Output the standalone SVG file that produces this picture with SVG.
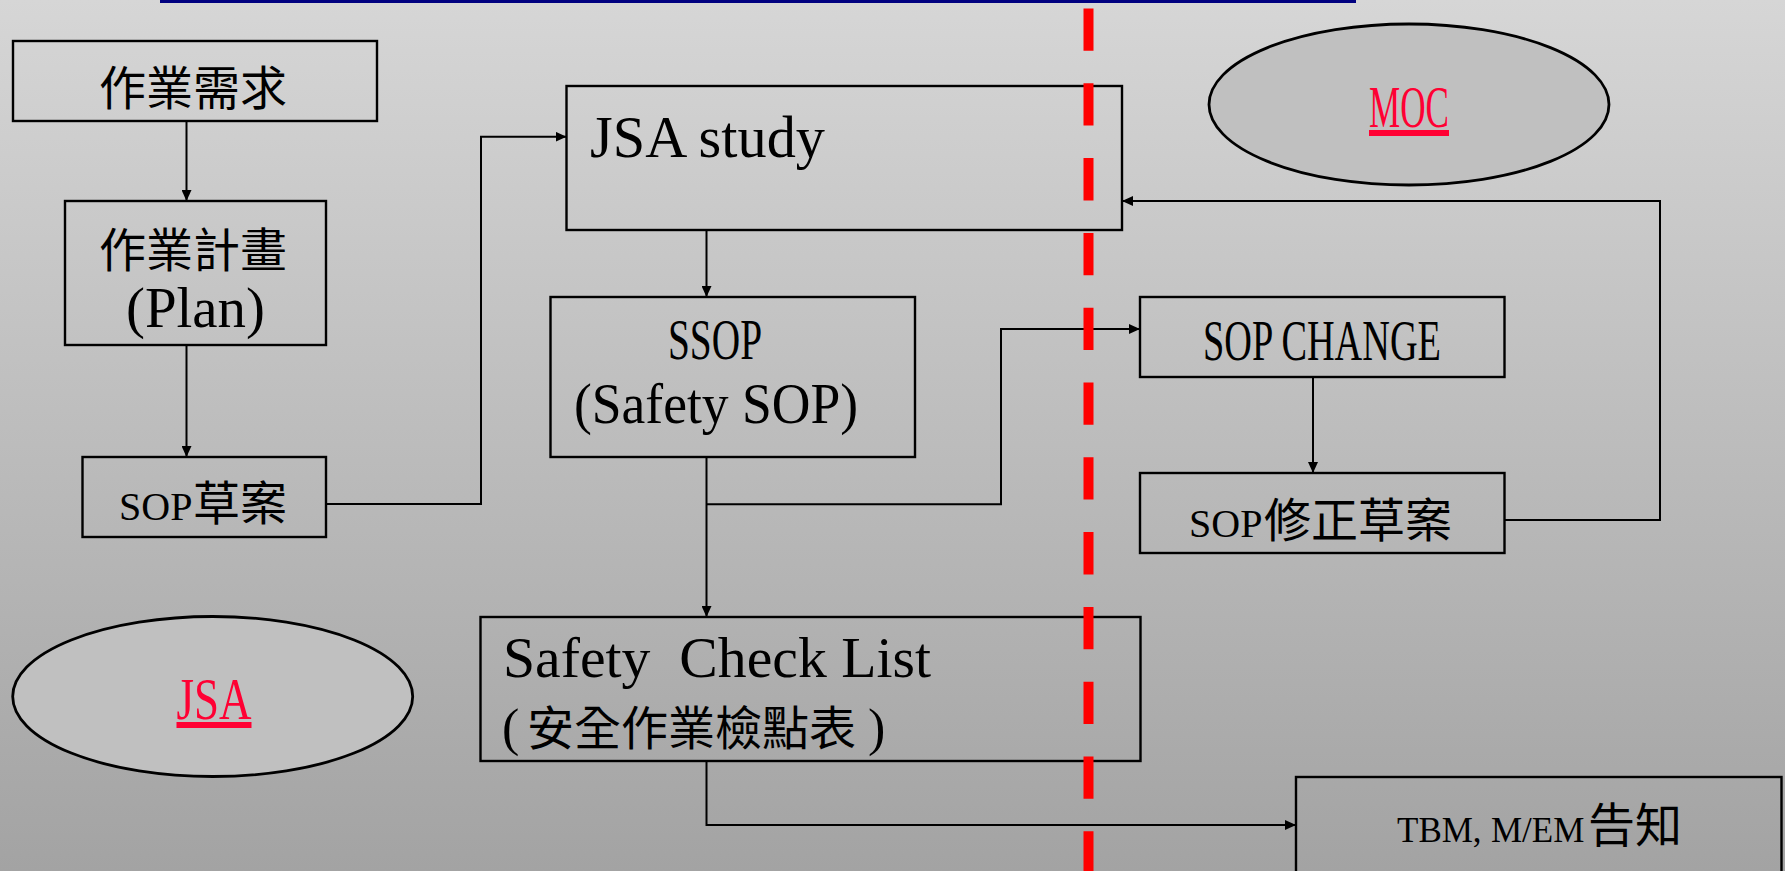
<svg xmlns="http://www.w3.org/2000/svg" width="1785" height="871" viewBox="0 0 1785 871">
<defs>
<linearGradient id="bg" x1="0" y1="0" x2="0" y2="1">
<stop offset="0" stop-color="#d6d6d6"/>
<stop offset="1" stop-color="#a3a3a3"/>
</linearGradient>
<marker id="ah" markerUnits="userSpaceOnUse" markerWidth="11" markerHeight="10" refX="11" refY="5" orient="auto">
<path d="M0,0 L11,5 L0,10 z" fill="#000"/>
</marker>
</defs>
<style>
.box{fill:none;stroke:#000;stroke-width:2.4}
.ell{fill:#c0c0c0;stroke:#000;stroke-width:2.8}
.con{fill:none;stroke:#000;stroke-width:2;marker-end:url(#ah)}
.cj{font-family:"Noto Sans CJK TC","Noto Sans CJK SC",sans-serif;font-size:47px;fill:#000}
.l{font-family:"Liberation Serif",serif;font-size:40px}
.ls{font-family:"Liberation Serif",serif;font-size:35px}
.lp{font-family:"Liberation Serif",serif;font-size:52px}
.lt{font-family:"Liberation Serif",serif;font-size:56px;fill:#000}
.lj{font-family:"Liberation Serif",serif;font-size:60px;fill:#000}
.red{font-family:"Liberation Serif",serif;font-size:60px;fill:#ff0033;text-decoration:underline}
</style>
<rect x="0" y="0" width="1785" height="871" fill="url(#bg)"/>
<rect x="160" y="0" width="1196" height="3" fill="#00007f"/>

<g id="connectors">
<path class="con" d="M186.5,121 V201"/>
<path class="con" d="M186.5,345 V457"/>
<path class="con" d="M326,504 H481 V136.7 H566.5"/>
<path class="con" d="M706.5,231 V297"/>
<path class="con" d="M706.5,457 V617"/>
<path class="con" d="M706.5,504.3 H1001 V329 H1140"/>
<path class="con" d="M706.5,761 V825 H1296"/>
<path class="con" d="M1313,377 V473"/>
<path class="con" d="M1504.5,520 H1660 V201 H1122"/>
</g>

<g id="n1">
<rect class="box" x="13" y="41" width="364" height="80"/>
<text class="cj" x="99" y="105">作業需求</text>
</g>
<g id="n2">
<rect class="box" x="65" y="201" width="261" height="144"/>
<text class="cj" x="99" y="267">作業計畫</text>
<text class="lt" x="126" y="327" textLength="139" lengthAdjust="spacingAndGlyphs">(Plan)</text>
</g>
<g id="n3">
<rect class="box" x="82.5" y="457" width="243.5" height="80"/>
<text class="cj" y="520"><tspan class="l" x="119">SOP</tspan><tspan x="193">草案</tspan></text>
</g>
<g id="n4">
<rect class="box" x="566.5" y="86" width="555.5" height="144"/>
<text class="lj" x="590" y="157" textLength="235" lengthAdjust="spacingAndGlyphs">JSA study</text>
</g>
<g id="n5">
<rect class="box" x="550.5" y="297" width="364.5" height="160"/>
<text class="lt" x="668" y="359" textLength="94" lengthAdjust="spacingAndGlyphs">SSOP</text>
<text class="lt" x="574" y="423" textLength="284" lengthAdjust="spacingAndGlyphs">(Safety SOP)</text>
</g>
<g id="n6">
<rect class="box" x="1140" y="297" width="364.5" height="80"/>
<text class="lt" x="1203" y="360" textLength="238" lengthAdjust="spacingAndGlyphs">SOP CHANGE</text>
</g>
<g id="n7">
<rect class="box" x="1140" y="473" width="364.5" height="80"/>
<text class="cj" y="537"><tspan class="l" x="1189">SOP</tspan><tspan x="1264">修正草案</tspan></text>
</g>
<g id="n8">
<rect class="box" x="480.5" y="617" width="660" height="144"/>
<text class="lt" x="503" y="677" textLength="428" lengthAdjust="spacingAndGlyphs" xml:space="preserve" style="white-space:pre">Safety  Check List</text>
<text class="cj" y="745"><tspan class="lp" x="502">(</tspan><tspan x="527">安全作業檢點表</tspan><tspan class="lp" x="868">)</tspan></text>
</g>
<g id="n9">
<rect class="box" x="1296" y="777" width="485.5" height="150"/>
<text class="cj" y="842"><tspan class="ls" x="1397">TBM,</tspan><tspan class="ls" x="1491">M/EM</tspan><tspan x="1588">告知</tspan></text>
</g>
<g id="moc">
<ellipse class="ell" cx="1409" cy="104.5" rx="200" ry="80.5"/>
<text class="red" x="1369" y="127" textLength="80" lengthAdjust="spacingAndGlyphs">MOC</text>
</g>
<g id="jsa">
<ellipse class="ell" cx="212.7" cy="696.5" rx="200" ry="80"/>
<text class="red" x="176.5" y="719" textLength="75" lengthAdjust="spacingAndGlyphs">JSA</text>
</g>

<line x1="1088.5" y1="8.5" x2="1088.5" y2="871" stroke="#ff0000" stroke-width="10" stroke-dasharray="42.3 32.5"/>
</svg>
